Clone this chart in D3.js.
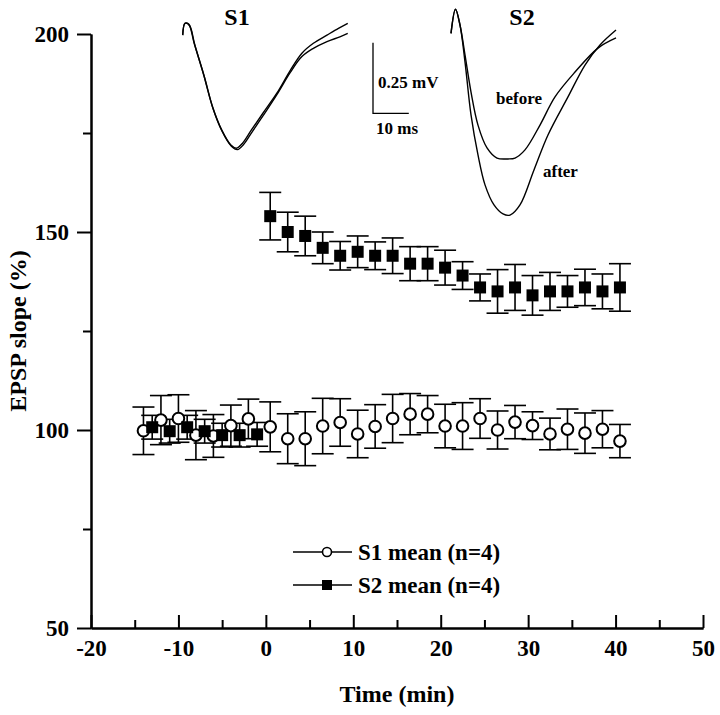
<!DOCTYPE html>
<html><head><meta charset="utf-8">
<script src="https://cdn.jsdelivr.net/npm/d3@7"></script>
<style>
body{margin:0;background:#fff}
svg{display:block}
text{font-family:"Liberation Serif","Times New Roman",serif;font-weight:bold;fill:#000}
</style>
</head><body>
<svg id="c" width="720" height="715"></svg>
<script>
// ---------- data ----------
const s1Time = [-14,-12,-10,-8,-6,-4,-2,0.5,2.5,4.5,6.5,8.5,10.5,12.5,14.5,16.5,18.5,20.5,22.5,24.5,26.5,28.5,30.5,32.5,34.5,36.5,38.5,40.5];
const s1Mean = [99.8,102.5,102.9,98.7,98.5,101.1,102.8,100.8,97.8,97.8,101,101.9,99,100.9,102.9,104,104,101,101,102.9,100,102,101.1,99,100.2,99.2,100.2,97.2];
const s1Err  = [6,6.2,6,6.2,5.4,5.2,5,6.3,6.3,6.8,7,6,6,5.5,6.1,5.2,4.7,5.5,5.9,5,4.8,4.2,3.5,4,5.1,5.1,4.7,4.2];

const s2Time = [-13,-11,-9,-7,-5,-3,-1,0.5,2.5,4.5,6.5,8.5,10.5,12.5,14.5,16.5,18.5,20.5,22.5,24.5,26.5,28.5,30.5,32.5,34.5,36.5,38.5,40.5];
const s2Mean = [100.7,99.7,100.7,99.7,98.7,98.7,98.9,154,150,149,146,144,145,144,144,142,142,141,139,136,135,136,134,135,135,136,135,136];
const s2Err  = [3,3,3,3,3,3,3,6,5,5,4,3.6,4,3.5,4.5,4.3,4.3,4.4,3.5,3.4,5.5,5.8,5,4.8,4,4.6,4.4,6];

const xTicksMajor = [-20,-10,0,10,20,30,40,50];
const xTicksMinor = [-15,-5,5,15,25,35,45];
const yTicksMajor = [50,100,150,200];
const yTicksMinor = [75,125,175];

const legendLabels = ["S1 mean (n=4)","S2 mean (n=4)"];

// inset traces: [time (ms), voltage (mV)]
const s1TraceA = [[0,-0.004],[0.64,0.038],[1.68,0.035],[3.21,-0.033],[5.75,-0.139],[8.32,-0.258],[10.89,-0.340],[13.46,-0.394],[15.0,-0.405],[16.65,-0.388],[19.2,-0.340],[22.4,-0.281],[26.3,-0.210],[30.1,-0.128],[33.3,-0.068],[36.5,-0.033],[40.3,-0.004],[43.5,0.020],[46.1,0.038]];
const s1TraceB = [[0,-0.004],[0.64,0.038],[1.9,0.03],[3.4,-0.04],[6.0,-0.15],[8.5,-0.265],[11.0,-0.345],[13.6,-0.398],[15.3,-0.41],[17.0,-0.392],[19.5,-0.345],[22.6,-0.287],[26.3,-0.215],[30.1,-0.135],[33.3,-0.08],[36.5,-0.051],[40.3,-0.027],[43.9,-0.010],[46.1,0.002]];
const s2Before = [[0,0.002],[1.26,0.088],[2.51,0.032],[3.91,-0.074],[5.59,-0.206],[7.54,-0.323],[10.06,-0.404],[12.85,-0.440],[15.92,-0.443],[17.88,-0.440],[20.67,-0.411],[24.86,-0.323],[29.05,-0.223],[34.64,-0.135],[41.06,-0.050],[46.09,-0.014]];
const s2After = [[0,0.002],[1.26,0.088],[2.51,0.032],[3.91,-0.099],[5.59,-0.287],[7.54,-0.429],[9.50,-0.535],[12.01,-0.606],[14.53,-0.638],[16.48,-0.642],[19.27,-0.606],[23.18,-0.482],[27.09,-0.358],[32.68,-0.223],[37.43,-0.110],[41.62,-0.039],[46.09,0.014]];
const scaleBarMs = 10, scaleBarMv = 0.25;

// ---------- layout ----------
const svg = d3.select("#c");
svg.append("rect").attr("width",720).attr("height",715).attr("fill","#fff");

const x = d3.scaleLinear().domain([-20,50]).range([91,703]);
const y = d3.scaleLinear().domain([50,200]).range([628,34]);

const axisStroke = 2;
const fmt = d => String(d); // plain hyphen minus as in the original

// y axis
const gy = svg.append("g").attr("transform","translate(91,0)");
gy.call(d3.axisLeft(y).tickValues(yTicksMajor).tickSize(14).tickPadding(8).tickSizeOuter(0).tickFormat(fmt));
gy.append("g").call(d3.axisLeft(y).tickValues(yTicksMinor).tickSize(8).tickSizeOuter(0).tickFormat(""));
// x axis
const gx = svg.append("g").attr("transform","translate(0,628)");
gx.call(d3.axisBottom(x).tickValues(xTicksMajor).tickSize(-13).tickPadding(12).tickSizeOuter(0).tickFormat(fmt));
gx.append("g").call(d3.axisBottom(x).tickValues(xTicksMinor).tickSize(-8).tickSizeOuter(0).tickFormat(""));

svg.selectAll(".domain").attr("stroke","#000").attr("stroke-width",axisStroke);
svg.selectAll(".tick line").attr("stroke","#000").attr("stroke-width",axisStroke);
svg.selectAll(".tick text").style("font-size","23px").style("font-family",'"Liberation Serif",serif').style("font-weight","bold").attr("fill","#000");

// axis titles
svg.append("text").attr("x",397).attr("y",702).attr("text-anchor","middle").style("font-size","24px").text("Time (min)");
svg.append("text").attr("transform","translate(26,331) rotate(-90)").attr("text-anchor","middle").style("font-size","24px").text("EPSP slope (%)");

// ---------- data marks ----------
const capW = 22;
function errBars(times, means, errs){
  const g = svg.append("g").attr("stroke","#000").attr("stroke-width",1.6);
  times.forEach((t,i)=>{
    const cx = x(t), yt = y(means[i]+errs[i]), yb = y(means[i]-errs[i]);
    g.append("line").attr("x1",cx).attr("x2",cx).attr("y1",yt).attr("y2",yb);
    g.append("line").attr("x1",cx-capW/2).attr("x2",cx+capW/2).attr("y1",yt).attr("y2",yt);
    g.append("line").attr("x1",cx-capW/2).attr("x2",cx+capW/2).attr("y1",yb).attr("y2",yb);
  });
}
errBars(s1Time,s1Mean,s1Err);
errBars(s2Time,s2Mean,s2Err);

svg.append("g").selectAll("circle").data(s1Time).join("circle")
  .attr("cx",d=>x(d)).attr("cy",(d,i)=>y(s1Mean[i])).attr("r",5.8)
  .attr("fill","#fff").attr("stroke","#000").attr("stroke-width",2);

const sq = 12;
svg.append("g").selectAll("rect").data(s2Time).join("rect")
  .attr("x",d=>x(d)-sq/2).attr("y",(d,i)=>y(s2Mean[i])-sq/2).attr("width",sq).attr("height",sq)
  .attr("fill","#000");

// ---------- legend ----------
const legY = [552,585];
legendLabels.forEach((lab,i)=>{
  const g = svg.append("g");
  g.append("line").attr("x1",293).attr("x2",352).attr("y1",legY[i]).attr("y2",legY[i]).attr("stroke","#000").attr("stroke-width",1.4);
  if(i===0){
    g.append("circle").attr("cx",327).attr("cy",legY[i]).attr("r",4.5).attr("fill","#fff").attr("stroke","#000").attr("stroke-width",1.6);
  } else {
    g.append("rect").attr("x",322).attr("y",legY[i]-5).attr("width",10).attr("height",10).attr("fill","#000");
  }
  g.append("text").attr("x",358).attr("y",legY[i]+8).style("font-size","23px").text(lab);
});

// ---------- insets ----------
const pxPerMs = 3.58, pxPerMv = 282, baseY = 34;
function insetScales(x0){
  return {
    tx: d3.scaleLinear().domain([0,10]).range([x0, x0+10*pxPerMs]),
    vy: d3.scaleLinear().domain([0,-0.25]).range([baseY, baseY+0.25*pxPerMv])
  };
}
const s1s = insetScales(182.7), s2s = insetScales(451);
function drawTrace(tr, sc){
  svg.append("path").datum(tr)
    .attr("d", d3.line().x(d=>sc.tx(d[0])).y(d=>sc.vy(d[1])).curve(d3.curveCatmullRom.alpha(0.5)))
    .attr("fill","none").attr("stroke","#000").attr("stroke-width",1.4);
}
drawTrace(s1TraceA,s1s); drawTrace(s1TraceB,s1s);
drawTrace(s2Before,s2s); drawTrace(s2After,s2s);

svg.append("text").attr("x",237).attr("y",25).attr("text-anchor","middle").style("font-size","24px").text("S1");
svg.append("text").attr("x",522).attr("y",25).attr("text-anchor","middle").style("font-size","24px").text("S2");

// scale bar
const sbs = {
  tx: d3.scaleLinear().domain([0,10]).range([373, 373+10*pxPerMs]),
  vy: d3.scaleLinear().domain([0,0.25]).range([113.3, 113.3-0.25*pxPerMv])
};
svg.append("path")
  .attr("d", d3.line()([[sbs.tx(0),sbs.vy(scaleBarMv)],[sbs.tx(0),sbs.vy(0)],[sbs.tx(scaleBarMs),sbs.vy(0)]]))
  .attr("fill","none").attr("stroke","#000").attr("stroke-width",1.3);
svg.append("text").attr("x",378).attr("y",88).style("font-size","17px").text("0.25 mV");
svg.append("text").attr("x",376).attr("y",134).style("font-size","17px").text("10 ms");
svg.append("text").attr("x",496).attr("y",104).style("font-size","17px").text("before");
svg.append("text").attr("x",543).attr("y",177).style("font-size","17px").text("after");
</script>
</body></html>
